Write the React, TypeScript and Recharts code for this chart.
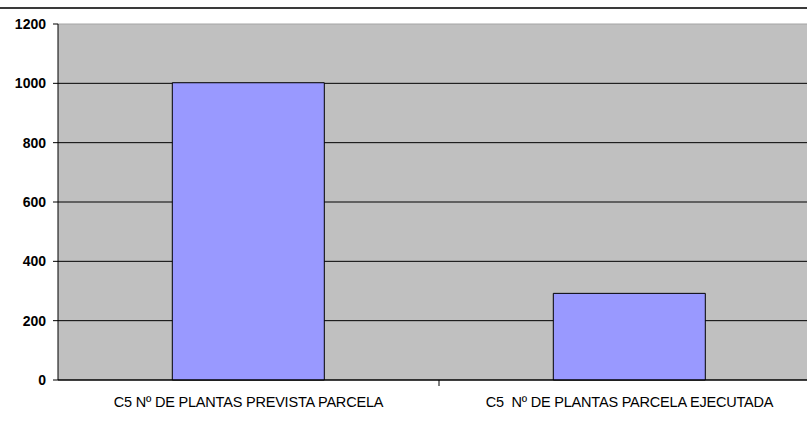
import { BarChart, Bar, XAxis, YAxis, CartesianGrid, ReferenceLine } from "recharts";

const categories = ["C5 Nº DE PLANTAS PREVISTA PARCELA", "C5  Nº DE PLANTAS PARCELA EJECUTADA"];
const plantas = [1002, 292];
const yTicks = [0, 200, 400, 600, 800, 1000, 1200];

const data = categories.map((name, i) => ({ name, value: plantas[i] }));

const CHART_W = 820;
const CHART_H = 427;
const Y_W = 58;
const BAND = (CHART_W - Y_W) / categories.length;

function CategoryTick(props: any) {
  const { x, y, payload, index } = props;
  return (
    <g>
      {index < categories.length - 1 && (
        <line x1={x + BAND / 2} x2={x + BAND / 2} y1={y} y2={y + 6} stroke="#000" />
      )}
      <text x={x} y={y + 27} textAnchor="middle" fill="#000" fontSize={14.5} letterSpacing={-0.2}
        fontFamily="Liberation Sans, Arial, sans-serif" style={{ whiteSpace: "pre" }}>
        {payload.value}
      </text>
    </g>
  );
}

export default function App() {
  return (
    <div style={{ position: "absolute", left: 0, top: 0, width: 807, height: 427, overflow: "hidden", background: "#fff" }}>
      <div style={{ position: "absolute", left: 0, top: 7, width: 807, borderTop: "2px solid #3a3a3a" }} />
      <BarChart width={CHART_W} height={CHART_H} data={data} barCategoryGap="30%"
        margin={{ top: 24, right: 0, left: 0, bottom: 0 }}>
        <CartesianGrid vertical={false} fill="#c0c0c0" stroke="#000" horizontalValues={yTicks.slice(0, -1)} />
        <ReferenceLine y={1200} stroke="#a4a4a4" />
        <XAxis dataKey="name" height={47} tickSize={0} tickMargin={0} tick={<CategoryTick />}
          axisLine={{ stroke: "#000" }} interval={0} />
        <YAxis width={Y_W} domain={[0, 1200]} ticks={yTicks} tickSize={5} tickMargin={7}
          axisLine={{ stroke: "#000" }} tickLine={{ stroke: "#000" }}
          tick={{ fill: "#000", fontSize: 14, fontWeight: "bold", fontFamily: "Liberation Sans, Arial, sans-serif" }} />
        <Bar dataKey="value" fill="#9999ff" stroke="#000" strokeWidth={1} isAnimationActive={false} />
      </BarChart>
    </div>
  );
}
